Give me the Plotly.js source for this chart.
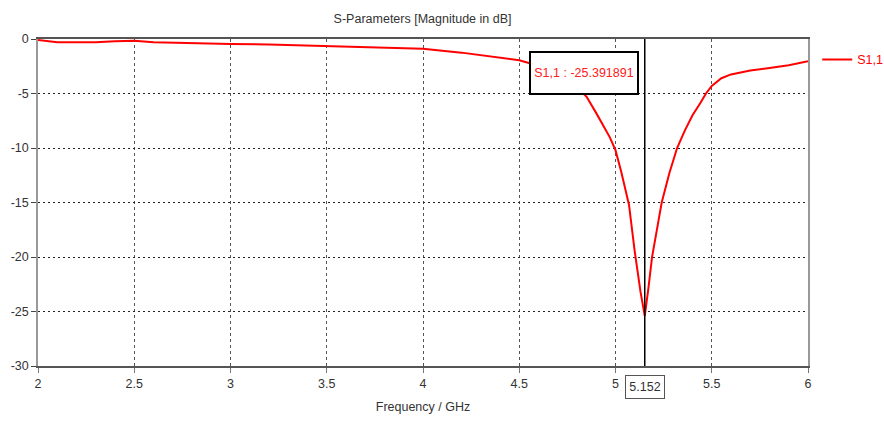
<!DOCTYPE html>
<html>
<head>
<meta charset="utf-8">
<script src="https://cdn.plot.ly/plotly-3.0.1.min.js"></script>
<style>html,body{margin:0;padding:0;background:#fff;}#chart{width:884px;height:432px;}</style>
</head>
<body>
<div id="chart"></div>
<script>
const freq = [2.0, 2.1, 2.2, 2.3, 2.4, 2.5, 2.6, 2.8, 3.0, 3.2, 3.4, 3.6, 3.8, 4.0, 4.2, 4.4, 4.5, 4.6, 4.7, 4.8, 4.85, 4.9, 4.94, 4.97, 5.0, 5.03, 5.07, 5.1, 5.13, 5.152, 5.17, 5.19, 5.22, 5.24, 5.28, 5.32, 5.36, 5.4, 5.44, 5.47, 5.5, 5.55, 5.6, 5.7, 5.8, 5.9, 6.0];
const s11 = [-0.1, -0.3, -0.3, -0.3, -0.2, -0.15, -0.3, -0.4, -0.45, -0.5, -0.6, -0.7, -0.8, -0.9, -1.25, -1.7, -1.95, -2.45, -3.2, -4.4, -5.3, -6.8, -8.0, -9.0, -10.2, -12.2, -15.2, -19.5, -23.2, -25.391891, -23, -20, -17, -15, -12.3, -10, -8.4, -7.0, -5.9, -5.0, -4.3, -3.6, -3.25, -2.9, -2.65, -2.4, -2.05];
const xTicks = [2, 2.5, 3, 3.5, 4, 4.5, 5, 5.5, 6];
const yTicks = [0, -5, -10, -15, -20, -25, -30];
const markerX = 5.152;
const markerLabel = "S1,1 : -25.391891";
const seriesName = "S1,1";
const titleText = "S-Parameters [Magnitude in dB]";
const xTitle = "Frequency / GHz";

const FAM = "Liberation Sans, Arial, sans-serif";
function f(size, color) { return {family: FAM, size: size, color: color}; }

const trace = {
  x: freq, y: s11, type: "scatter", mode: "lines", name: seriesName,
  line: {color: "#ff0000", width: 2}
};

const layout = {
  width: 884, height: 432,
  margin: {l: 38, r: 76, t: 39, b: 66, autoexpand: false},
  paper_bgcolor: "#fff", plot_bgcolor: "#fff",
  font: f(12, "#333"),
  title: {text: titleText, x: 0.478, xanchor: "center", y: 0.958, yanchor: "middle", yref: "container",
          font: f(12.5, "#333")},
  showlegend: true,
  legend: {x: 1.012, xanchor: "left", y: 0.936, yanchor: "middle", bgcolor: "rgba(0,0,0,0)",
           font: f(12.5, "#ff0000"), itemwidth: 30},
  xaxis: {
    range: [2, 6], tickvals: xTicks, ticktext: xTicks.map(String),
    showgrid: true, gridcolor: "#555", griddash: "3px,3px", gridwidth: 1,
    showline: true, linecolor: "#555", linewidth: 1.5, mirror: true,
    ticks: "outside", ticklen: 5, tickcolor: "#777",
    zeroline: false, tickfont: f(12.5, "#333"),
    title: {text: xTitle, font: f(12.5, "#333"), standoff: 12}
  },
  yaxis: {
    range: [-30, 0], tickvals: yTicks, ticktext: yTicks.map(String),
    showgrid: true, gridcolor: "#222", griddash: "2px,3px", gridwidth: 1,
    showline: true, linecolor: "#999", linewidth: 1.5, mirror: true,
    ticks: "outside", ticklen: 5, tickcolor: "#444",
    zeroline: false, tickfont: f(12.5, "#333")
  },
  shapes: [
    {type: "line", xref: "x", yref: "paper", x0: markerX, x1: markerX, y0: 0, y1: 1,
     line: {color: "#000", width: 1.5}}
  ],
  annotations: [
    {x: 4.836, y: -3.08, xref: "x", yref: "y", text: markerLabel, showarrow: false,
     font: f(12.5, "#ff2020"), bgcolor: "#fff",
     bordercolor: "#000", borderwidth: 2, width: 104, height: 38, align: "center", valign: "middle"},
    {x: markerX, y: 0, xref: "x", yref: "paper", yanchor: "top", yshift: -9, text: String(markerX),
     showarrow: false, font: f(12.5, "#333"), bgcolor: "#fff",
     bordercolor: "#555", borderwidth: 1, width: 36, height: 20}
  ]
};

Plotly.newPlot("chart", [trace], layout, {displayModeBar: false});
</script>
</body>
</html>
